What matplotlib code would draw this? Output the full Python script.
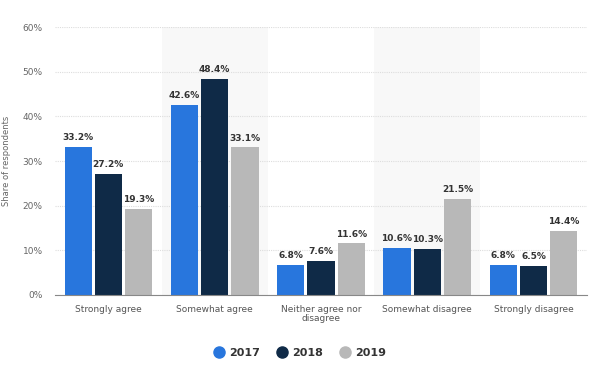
import numpy as np
import matplotlib.pyplot as plt

# data
categories = ["Strongly agree", "Somewhat agree", "Neither agree nor\ndisagree",
              "Somewhat disagree", "Strongly disagree"]
years = ["2017", "2018", "2019"]
share_2017 = [33.2, 42.6, 6.8, 10.6, 6.8]
share_2018 = [27.2, 48.4, 7.6, 10.3, 6.5]
share_2019 = [19.3, 33.1, 11.6, 21.5, 14.4]
yticks = [0, 10, 20, 30, 40, 50, 60]

colors = ["#2876dd", "#0f2a47", "#b8b8b8"]

fig = plt.figure(figsize=(6, 3.78), dpi=100)
ax = fig.add_axes([0.092, 0.22, 0.886, 0.708])

x = np.arange(len(categories))
width = 0.255
step = 0.285

# alternating light bands
for i in x:
    if i % 2 == 1:
        ax.axvspan(i - 0.5, i + 0.5, color="#f8f8f8", zorder=0, lw=0)

for k, vals in enumerate([share_2017, share_2018, share_2019]):
    pos = x + (k - 1) * step
    bars = ax.bar(pos, vals, width, color=colors[k], label=years[k], zorder=3)
    for b, v in zip(bars, vals):
        ax.text(b.get_x() + b.get_width() / 2, v + 1.0, f"{v}%",
                ha="center", va="bottom", fontsize=6.5, fontweight="bold",
                color="#333333", zorder=4)

ax.set_xlim(-0.5, len(categories) - 0.5)
ax.set_ylim(0, 60)
ax.set_yticks(yticks)
ax.set_yticklabels([f"{t}%" for t in yticks], fontsize=6.5, color="#666666")
ax.set_xticks(x)
ax.set_xticklabels(categories, fontsize=6.5, color="#555555", linespacing=1.1)
ax.tick_params(length=0, pad=7)
ax.tick_params(axis="y", pad=9)
ax.grid(axis="y", color="#dddddd", linestyle=(0, (1, 1)), lw=0.8, zorder=1)
for s in ["top", "right", "left"]:
    ax.spines[s].set_visible(False)
ax.spines["bottom"].set_color("#888888")
ax.spines["bottom"].set_zorder(5)
ax.set_ylabel("Share of respondents", fontsize=6, color="#666666")
ax.yaxis.set_label_coords(-0.083, 0.5)

# round legend markers
handles = [plt.Line2D([], [], marker="o", ls="", ms=8, color=c) for c in colors]
fig.legend(handles, years, loc="center", bbox_to_anchor=(0.5, 0.066), ncol=3,
           frameon=False, handlelength=1, columnspacing=1.5, handletextpad=0.4,
           labelcolor="#333333", prop={"size": 8, "weight": "bold"})

fig.savefig("out.png", dpi=100)
